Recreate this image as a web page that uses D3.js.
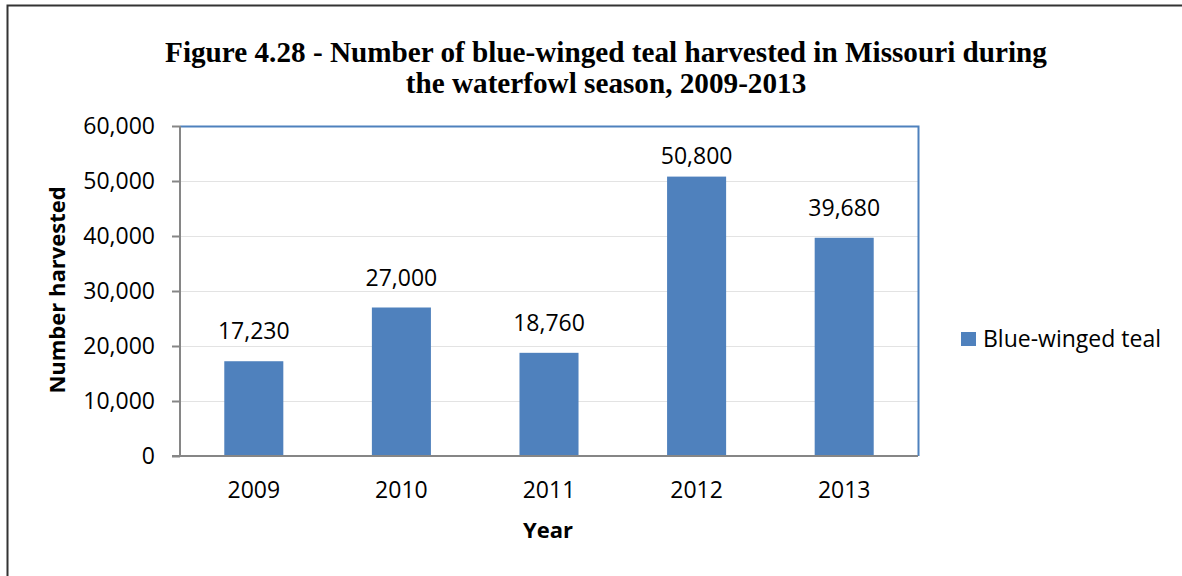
<!DOCTYPE html>
<html>
<head>
<meta charset="utf-8">
<script src="https://cdn.jsdelivr.net/npm/d3@7"></script>
<style>
  html, body { margin: 0; padding: 0; background: #fff; }
  svg { display: block; }
</style>
</head>
<body>
<svg id="chart" width="1182" height="576"></svg>
<script>
// Harvest of blue-winged teal in Missouri, by season year
const years = ["2009", "2010", "2011", "2012", "2013"];
const harvested = [17230, 27000, 18760, 50800, 39680];
const yTicks = [0, 10000, 20000, 30000, 40000, 50000, 60000];
const seriesName = "Blue-winged teal";
const titleLines = [
  "Figure 4.28 - Number of blue-winged teal harvested in Missouri during",
  "the waterfowl season, 2009-2013"
];

const svg = d3.select("#chart");
const W = 1182, H = 576;
const plot = { left: 180, top: 126, right: 918, bottom: 456 };
const barColor = "#4F81BD";
const sans = "'Open Sans', 'DejaVu Sans', sans-serif";
const fmt = d3.format(",");

// outer frame
svg.append("rect")
  .attr("x", 7.5).attr("y", 5.5)
  .attr("width", W + 20).attr("height", H + 20)
  .attr("fill", "none").attr("stroke", "#333").attr("stroke-width", 2);

// title
svg.append("g").selectAll("text").data(titleLines).join("text")
  .attr("x", 606).attr("y", (d, i) => 62 + i * 31)
  .attr("text-anchor", "middle")
  .attr("font-family", "'Liberation Serif', 'Times New Roman', serif")
  .attr("font-weight", "bold")
  .attr("font-size", 29.2)
  .attr("fill", "#000")
  .text(d => d);

const x = d3.scaleBand().domain(years).range([plot.left, plot.right]);
const y = d3.scaleLinear().domain([0, 60000]).range([plot.bottom, plot.top]);
const barW = x.bandwidth() * 0.4;

// gridlines
svg.append("g").selectAll("line").data(yTicks.slice(1, -1)).join("line")
  .attr("x1", plot.left).attr("x2", plot.right)
  .attr("y1", d => Math.round(y(d)) + 0.5).attr("y2", d => Math.round(y(d)) + 0.5)
  .attr("stroke", "#e3e3e3").attr("stroke-width", 1);

// plot area border (top/right)
svg.append("path")
  .attr("d", `M${plot.left},${plot.top + 0.5}H${plot.right + 0.5}V${plot.bottom}`)
  .attr("fill", "none").attr("stroke", "#4F81BD").attr("stroke-width", 2);

// bars
svg.append("g").selectAll("rect").data(years).join("rect")
  .attr("x", (d) => x(d) + (x.bandwidth() - barW) / 2)
  .attr("width", barW)
  .attr("y", (d, i) => y(harvested[i]))
  .attr("height", (d, i) => y(0) - y(harvested[i]))
  .attr("fill", barColor);

// value labels, kept clear of the plot's top edge
svg.append("g").selectAll("text").data(years).join("text")
  .attr("x", d => x(d) + x.bandwidth() / 2)
  .attr("y", (d, i) => Math.max(y(harvested[i]) - 22, plot.top + 38))
  .attr("text-anchor", "middle")
  .attr("font-family", sans).attr("font-size", 23)
  .attr("fill", "#000")
  .text((d, i) => fmt(harvested[i]));

// y axis
const yAxis = svg.append("g")
  .attr("transform", `translate(${plot.left},0)`)
  .call(d3.axisLeft(y).tickValues(yTicks).tickFormat(fmt).tickSize(8).tickPadding(17));
yAxis.select(".domain").attr("stroke", "#868686").attr("stroke-width", 2)
  .attr("d", `M0,${plot.top}V${plot.bottom}`);
yAxis.selectAll(".tick line").attr("stroke", "#868686").attr("stroke-width", 2);
yAxis.selectAll(".tick text")
  .attr("font-family", sans).attr("font-size", 23).attr("fill", "#000");

// x axis
const xAxis = svg.append("g")
  .attr("transform", `translate(0,${plot.bottom})`)
  .call(d3.axisBottom(x).tickSize(0).tickPadding(26));
xAxis.select(".domain").attr("stroke", "#868686").attr("stroke-width", 2)
  .attr("d", `M${plot.left - 8},0H${plot.right}`);
xAxis.selectAll(".tick text")
  .attr("font-family", sans).attr("font-size", 23).attr("fill", "#000");

// axis titles
svg.append("text")
  .attr("transform", "translate(65,290) rotate(-90)")
  .attr("text-anchor", "middle")
  .attr("font-family", sans).attr("font-weight", "bold").attr("font-size", 22)
  .attr("fill", "#000")
  .text("Number harvested");
svg.append("text")
  .attr("x", 548).attr("y", 538)
  .attr("text-anchor", "middle")
  .attr("font-family", sans).attr("font-weight", "bold").attr("font-size", 22)
  .attr("fill", "#000")
  .text("Year");

// legend
const leg = svg.append("g").attr("transform", "translate(961,332)");
leg.append("rect").attr("width", 15).attr("height", 14).attr("fill", barColor);
leg.append("text").attr("x", 22).attr("y", 15)
  .attr("font-family", sans).attr("font-size", 23).attr("fill", "#000")
  .text(seriesName);
</script>
</body>
</html>
